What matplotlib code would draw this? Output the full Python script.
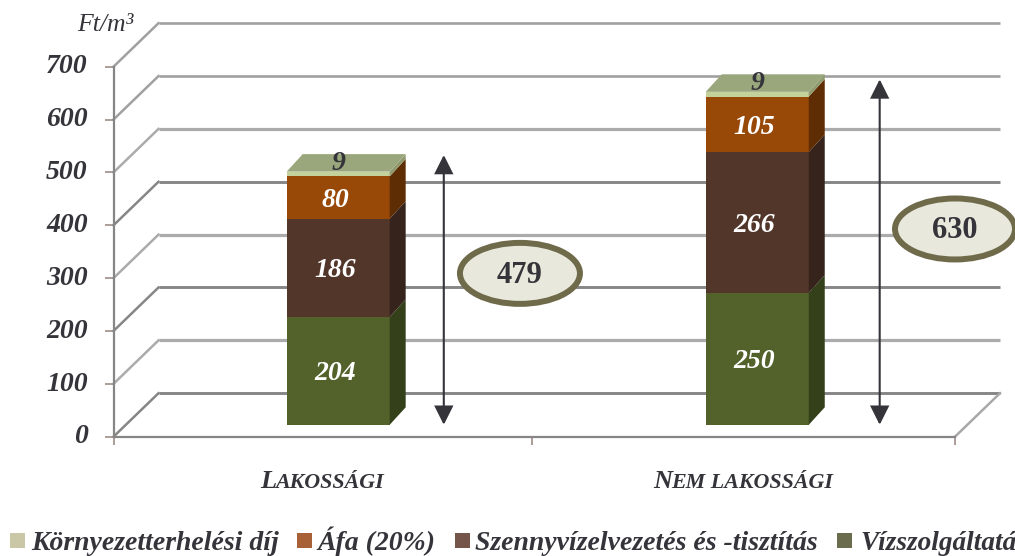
import matplotlib
matplotlib.use("Agg")
import matplotlib.pyplot as plt
from matplotlib.patches import Ellipse, Polygon, Rectangle
from matplotlib.transforms import ScaledTranslation

plt.rcParams["font.family"] = ["Liberation Serif", "DejaVu Serif"]

categories = [("L", "AKOSSÁGI"), ("N", "EM LAKOSSÁGI")]
vizszolgaltatas = [204, 250]
szennyviz = [186, 266]
afa = [80, 105]
kornyezet = [9, 9]
totals = [479, 630]
y_ticks = [0, 100, 200, 300, 400, 500, 600, 700]
legend_labels = ["Környezetterhelési díj", "Áfa (20%)", "Szennyvízelvezetés és -tisztítás", "Vízszolgáltatá"]
legend_colors = ["#c9c7a5", "#a86136", "#75544a", "#6b6b4d"]

W, H = 1015, 556
DARK = "#34343a"

fig = plt.figure(figsize=(W / 100, H / 100), dpi=100)
ax = fig.add_axes([113.5 / W, 1 - 436.7 / H, (955 - 113.5) / W, (436.7 - 66.7) / H])
ax.set_xlim(0, 2)
ax.set_ylim(0, 700)

# pixel sizes expressed in data units
px_x = 2 / (955 - 113.5)
px_y = 700 / (436.7 - 66.7)

# the back wall sits up and to the right of the front edge
wall_dx = 45 * px_x
wall_dy = 43.5 * px_y

grid_colors = ["#868686", "#ababab", "#868686", "#ababab", "#868686", "#ababab", "#a0a0a0", "#a0a0a0"]
grid_widths = [2.1, 2.3, 2.1, 2.3, 2.1, 2.3, 1.9, 1.9]
for i, v in enumerate(y_ticks):
    ax.plot([wall_dx, 2 + wall_dx], [v + wall_dy, v + wall_dy], color=grid_colors[i], lw=grid_widths[i],
            clip_on=False, zorder=1, solid_capstyle="butt")
    ax.plot([0, wall_dx], [v, v + wall_dy], color=grid_colors[i], lw=1.8, clip_on=False, zorder=1)
ax.plot([2, 2 + wall_dx], [0, wall_dy], color="#a8a8a8", lw=1.8, clip_on=False, zorder=1)

# stacked columns with a fake 3d side and top
bar_x = [0.534, 1.530]
bar_w = 103 * px_x
base = 22.5
depth_x = 16 * px_x
depth_y = 17.5 * px_y
label_drop = 3 * px_y

series = [
    (vizszolgaltatas, "#52622a", "#33401a", "white"),
    (szennyviz, "#52362a", "#35231c", "white"),
    (afa, "#984807", "#5f2d04", "white"),
    (kornyezet, "#c3d19b", "#8f9a6f", DARK),
]

bottoms = [base, base]
for vals, col, side, txt in series:
    ax.bar(bar_x, vals, bar_w, bottom=bottoms, color=col, zorder=3, clip_on=False)
    for j, v in enumerate(vals):
        right = bar_x[j] + bar_w / 2
        ax.add_patch(Polygon([(right, bottoms[j]), (right + depth_x, bottoms[j] + depth_y),
                              (right + depth_x, bottoms[j] + v + depth_y), (right, bottoms[j] + v)],
                             closed=True, fc=side, ec="none", zorder=3, clip_on=False))
        if txt == "white":
            ax.text(bar_x[j] - 3 * px_x, bottoms[j] + v / 2 - label_drop, str(v), color=txt, fontsize=20,
                    fontweight="bold", fontstyle="italic", ha="center", va="center", zorder=5)
    bottoms = [b + v for b, v in zip(bottoms, vals)]

# top faces, the small fee is labelled on them
for j, v in enumerate(kornyezet):
    left = bar_x[j] - bar_w / 2
    right = bar_x[j] + bar_w / 2
    t = bottoms[j]
    ax.add_patch(Polygon([(left, t), (left + depth_x, t + depth_y), (right + depth_x, t + depth_y), (right, t)],
                         closed=True, fc="#9aa67c", ec="none", zorder=4, clip_on=False))
    ax.text(bar_x[j], t + depth_y * 0.62 - label_drop, str(v), color=DARK, fontsize=20, fontweight="bold",
            fontstyle="italic", ha="center", va="center", zorder=5, clip_on=False)

# total arrows and ovals
arrow_x = [0.785, 1.821]
arrow_top = [533, 676]
oval_x = [0.966, 2.0]
oval_y = [309, 393]
for j, total in enumerate(totals):
    ax.annotate("", xy=(arrow_x[j], arrow_top[j]), xytext=(arrow_x[j], base),
                arrowprops=dict(arrowstyle="<|-|>,head_length=0.82,head_width=0.41", mutation_scale=14,
                                color=DARK, lw=1.5, shrinkA=0, shrinkB=0, joinstyle="miter"),
                zorder=6, annotation_clip=False)
    ax.add_patch(Ellipse((oval_x[j], oval_y[j]), 120 * px_x, 61 * px_y, fc="#e8e9dc", ec="#6f6a4a",
                         lw=4.3, zorder=7, clip_on=False))
    ax.text(oval_x[j], oval_y[j] - 2 * px_y, str(total), color=DARK, fontsize=22, fontweight="bold",
            ha="center", va="center", zorder=8, clip_on=False)

for s in ["top", "right"]:
    ax.spines[s].set_visible(False)
for s in ["left", "bottom"]:
    ax.spines[s].set_color("#868686")
    ax.spines[s].set_linewidth(1.6)
    ax.spines[s].set_zorder(2)

ax.set_yticks(y_ticks)
ax.set_xticks([0, 0.995, 2])
ax.set_xticklabels([])
ax.tick_params(axis="y", length=6.5, width=1.2, color="#a08c88", pad=12, labelcolor=DARK)
ax.tick_params(axis="x", length=5.5, width=1.2, color="#a08c88")
# tick labels sit a little above their ticks
nudge = ScaledTranslation(0, 2 / 72, fig.dpi_scale_trans)
for lab in ax.get_yticklabels():
    lab.set_fontsize(20)
    lab.set_fontweight("bold")
    lab.set_fontstyle("italic")
    lab.set_transform(lab.get_transform() + nudge)

fig.text(77 / W, 1 - 25 / H, "Ft/m³", fontsize=18.5, fontstyle="italic", color=DARK, ha="left", va="center")

# small caps category names: big initial followed by smaller capitals
rend = fig.canvas.get_renderer()
cat_left = [260, 653]
for j, (first, rest) in enumerate(categories):
    t1 = fig.text(cat_left[j] / W, 1 - 488 / H, first, fontsize=19, fontweight="bold", fontstyle="italic",
                  color=DARK, ha="left", va="baseline")
    bb = t1.get_window_extent(rend)
    fig.text((bb.x1 - 1) / W, 1 - 488 / H, rest, fontsize=15.8, fontweight="bold", fontstyle="italic",
             color=DARK, ha="left", va="baseline")

legend_box = [10, 297, 455, 837]
legend_text = [31, 317, 475, 860]
legend_sizes = [20, 20, 20, 19.6]
for x0, x1, lab, col, fs in zip(legend_box, legend_text, legend_labels, legend_colors, legend_sizes):
    fig.add_artist(Rectangle((x0 / W, 1 - 548 / H), 15 / W, 15 / H, transform=fig.transFigure, fc=col, ec="none"))
    fig.text(x1 / W, 1 - 550 / H, lab, fontsize=fs, fontweight="bold", fontstyle="italic",
             color=DARK, ha="left", va="baseline")

fig.savefig("out.png", dpi=100, facecolor="white")
